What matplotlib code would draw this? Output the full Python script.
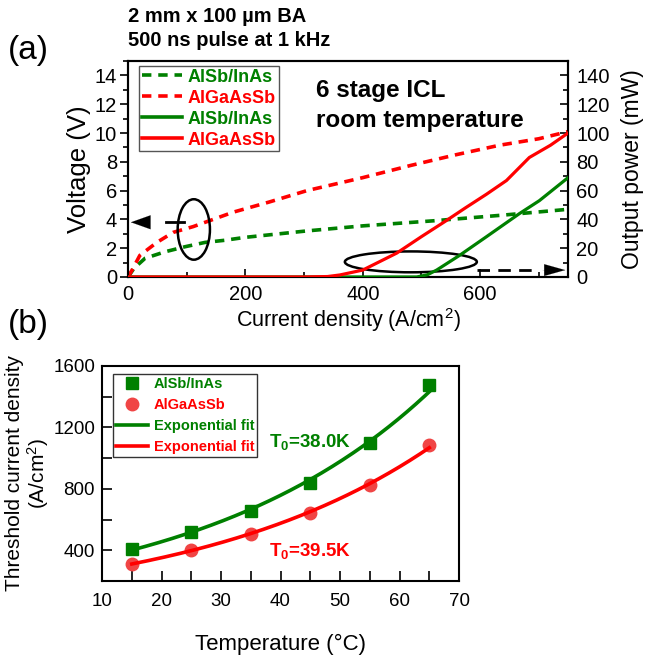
import numpy as np
import matplotlib
matplotlib.use("Agg")
import matplotlib.pyplot as plt
from matplotlib.patches import Ellipse
from matplotlib.ticker import MultipleLocator
from matplotlib.lines import Line2D

plt.rcParams['font.family'] = ['Liberation Sans', 'DejaVu Sans']
plt.rcParams['mathtext.fontset'] = 'custom'
plt.rcParams['mathtext.rm'] = 'Liberation Sans'
plt.rcParams['mathtext.bf'] = 'Liberation Sans:bold'
plt.rcParams['mathtext.it'] = 'Liberation Sans:italic'

GREEN = '#008000'
RED = '#ff0000'
RED_PT = '#f04545'

# ---- panel (a) data ----
v_j_green = [0, 10, 29, 63, 97, 131, 165, 199, 305, 400, 520, 640, 750]
v_green = [0, 0.6, 1.3, 1.75, 2.1, 2.4, 2.55, 2.75, 3.2, 3.55, 3.9, 4.3, 4.7]
v_j_red = [0, 7, 20, 49, 77, 111, 145, 179, 240, 305, 400, 482, 560, 633, 700, 750]
v_red = [0, 0.5, 1.5, 2.4, 3.1, 3.5, 4.0, 4.5, 5.2, 6.0, 6.9, 7.75, 8.5, 9.15, 9.6, 10.1]

p_j_green = [0, 100, 200, 300, 400, 492, 510, 526, 565, 611, 667, 701, 750]
p_green = [0, 0, 0, 0, 0, 0, 1.5, 4.8, 15, 28, 44, 53, 69]
p_j_red = [0, 100, 200, 300, 340, 361, 400, 458, 500, 540, 575, 611, 645, 684, 720, 750]
p_red = [0, 0, 0, 0, 0.3, 1.4, 4.8, 16.6, 28, 38.5, 48, 57.5, 67, 83, 91.5, 100]

# ---- panel (b) data ----
temps = [15, 25, 35, 45, 55, 65]
jth_green = [410, 519, 654, 839, 1100, 1476]
jth_red = [313, 400, 504, 643, 826, 1087]
t0_green_label = r'T$_\mathbf{0}$=38.0K'
t0_red_label = r'T$_\mathbf{0}$=39.5K'

fig = plt.figure(figsize=(6.47, 6.59), dpi=100)

# ================= panel (a) =================
ax1 = fig.add_axes([0.198, 0.5797, 0.680, 0.3277])
ax2 = ax1.twinx()
dash = (0, (2.6, 1.9))
ax1.plot(v_j_green, v_green, color=GREEN, lw=2.6, ls=dash, zorder=3)
ax1.plot(v_j_red, v_red, color=RED, lw=2.6, ls=dash, zorder=3)
ax2.plot(p_j_green, p_green, color=GREEN, lw=2.3, zorder=3)
ax2.plot(p_j_red, p_red, color=RED, lw=2.3, zorder=3)

ax1.set_xlim(0, 750)
ax1.set_ylim(0, 15)
ax2.set_ylim(0, 150)
ax1.set_xticks([0, 200, 400, 600])
ax1.xaxis.set_minor_locator(MultipleLocator(100))
ax1.set_yticks(range(0, 15, 2))
ax1.yaxis.set_minor_locator(MultipleLocator(1))
ax2.set_yticks(range(0, 150, 20))
ax2.yaxis.set_minor_locator(MultipleLocator(10))
ax1.tick_params(axis='y', which='both', direction='out', labelsize=14.5, width=1.2, pad=2)
ax1.tick_params(axis='y', which='major', length=6)
ax1.tick_params(axis='y', which='minor', length=3.5)
ax1.tick_params(axis='x', which='both', direction='in', labelsize=14.5, width=1.2)
ax1.tick_params(axis='x', which='major', length=6, pad=6)
ax1.tick_params(axis='x', which='minor', length=3.5)
ax2.tick_params(axis='y', which='both', direction='in', labelsize=14.5, width=1.2, pad=6)
ax2.tick_params(axis='y', which='major', length=6)
ax2.tick_params(axis='y', which='minor', length=3.5)
for ax in (ax1, ax2):
    for s in ax.spines.values():
        s.set_linewidth(1.5)
ax1.set_xlabel('Current density (A/cm$^2$)', fontsize=15.5, labelpad=1)
ax1.set_ylabel('Voltage (V)', fontsize=18.5)
ax1.yaxis.set_label_coords(-0.085, 0.5)
ax2.set_ylabel('Output power (mW)', fontsize=16.5, rotation=90,
               va='bottom', rotation_mode='anchor')
ax2.yaxis.set_label_coords(1.172, 0.5)

handles = [Line2D([], [], color=GREEN, lw=2.6, ls=dash),
           Line2D([], [], color=RED, lw=2.6, ls=dash),
           Line2D([], [], color=GREEN, lw=2.6),
           Line2D([], [], color=RED, lw=2.6)]
labels = ['AlSb/InAs', 'AlGaAsSb', 'AlSb/InAs', 'AlGaAsSb']
leg = ax1.legend(handles, labels, loc='upper left', bbox_to_anchor=(0.025, 0.977),
                 prop={'size': 13, 'weight': 'bold'}, handlelength=2.2,
                 handletextpad=0.35, labelspacing=0.22, borderpad=0.15,
                 fancybox=False, edgecolor='#555555', framealpha=1,
                 borderaxespad=0)
leg.get_frame().set_linewidth(1.0)
for t, c in zip(leg.get_texts(), [GREEN, RED, GREEN, RED]):
    t.set_color(c)
leg.set_zorder(5)

fig.text(316 / 647, 1 - 90 / 659, '6 stage ICL', fontsize=17.5, fontweight='bold',
         va='center', ha='left')
fig.text(316 / 647, 1 - 120 / 659, 'room temperature', fontsize=17.5,
         fontweight='bold', va='center', ha='left')

# ellipses and arrows
ax1.add_patch(Ellipse((112, 3.3), 55, 4.2, fill=False, lw=1.8, ec='k', zorder=4))
ax1.add_patch(Ellipse((482, 1.05), 225, 1.45, fill=False, lw=1.8, ec='k', zorder=4))
ax1.plot([95, 64], [3.8, 3.8], color='k', lw=2, zorder=4)
ax1.annotate('', xy=(0, 3.8), xytext=(41, 3.8),
             arrowprops=dict(arrowstyle='-|>,head_length=1.4,head_width=0.5',
                             color='k', lw=0.1), zorder=4)
ax1.plot([594, 698], [0.48, 0.48], color='k', lw=2, ls=(0, (4.5, 3)), zorder=4)
ax1.annotate('', xy=(750, 0.48), xytext=(702, 0.48),
             arrowprops=dict(arrowstyle='-|>,head_length=1.5,head_width=0.42',
                             color='k', lw=0.1), zorder=4)

fig.text(128 / 647, 1 - 16 / 659, '2 mm x 100 \u00b5m BA', fontsize=14.5,
         fontweight='bold', va='center', ha='left')
fig.text(128 / 647, 1 - 41 / 659, '500 ns pulse at 1 kHz', fontsize=14.5,
         fontweight='bold', va='center', ha='left')
fig.text(8 / 647, 1 - 50 / 659, '(a)', fontsize=24, va='center', ha='left')
fig.text(8 / 647, 1 - 325 / 659, '(b)', fontsize=24, va='center', ha='left')

# ================= panel (b) =================
bx = fig.add_axes([0.1577, 0.1184, 0.5518, 0.3263])
tt = np.array(temps, dtype=float)
fit_g = np.polyfit(tt, np.log(jth_green), 1)
fit_r = np.polyfit(tt, np.log(jth_red), 1)
tfine = np.linspace(15, 65, 200)
bx.plot(temps, jth_green, 's', color=GREEN, ms=8, zorder=3)
bx.plot(temps, jth_red, 'o', color=RED_PT, ms=9, zorder=3)
bx.plot(tfine, np.exp(np.polyval(fit_g, tfine)), color=GREEN, lw=2.6, zorder=4)
bx.plot(tfine, np.exp(np.polyval(fit_r, tfine)), color=RED, lw=2.6, zorder=4)
bx.set_xlim(10, 70)
bx.set_ylim(200, 1600)
bx.xaxis.set_major_locator(MultipleLocator(10))
bx.xaxis.set_minor_locator(MultipleLocator(5))
bx.set_yticks([400, 800, 1200, 1600])
bx.yaxis.set_minor_locator(MultipleLocator(200))
bx.tick_params(which='both', direction='in', width=1.2, labelsize=13.5, length=7)
bx.tick_params(axis='x', pad=9)
bx.tick_params(axis='y', pad=5)
for s in bx.spines.values():
    s.set_linewidth(1.5)
bx.set_xlabel('Temperature (\u00b0C)', fontsize=16)
bx.xaxis.set_label_coords(0.5, -0.245)
bx.set_ylabel('Threshold current density\n(A/cm$^2$)', fontsize=15, linespacing=1.05)
bx.yaxis.set_label_coords(-0.142, 0.5)

bh = [Line2D([], [], ls='none', marker='s', color=GREEN, ms=8),
      Line2D([], [], ls='none', marker='o', color=RED_PT, ms=9),
      Line2D([], [], color=GREEN, lw=2.6),
      Line2D([], [], color=RED, lw=2.6)]
bl = ['AlSb/InAs', 'AlGaAsSb', 'Exponential fit', 'Exponential fit']
bleg = bx.legend(bh, bl, loc='upper left', bbox_to_anchor=(0.031, 0.963),
                 prop={'size': 10.5, 'weight': 'bold'},
                 handlelength=2.2, handletextpad=0.4, labelspacing=0.48,
                 borderpad=0.2, fancybox=False, edgecolor='#333333',
                 framealpha=1, borderaxespad=0)
bleg.get_frame().set_linewidth(1.0)
for t, c in zip(bleg.get_texts(), [GREEN, RED, GREEN, RED]):
    t.set_color(c)

bx.text(38, 1107, t0_green_label, color=GREEN, fontsize=13.5, fontweight='bold',
        ha='left', va='center')
bx.text(38, 396, t0_red_label, color=RED, fontsize=13.5, fontweight='bold',
        ha='left', va='center')

fig.savefig('out.png', dpi=100)
